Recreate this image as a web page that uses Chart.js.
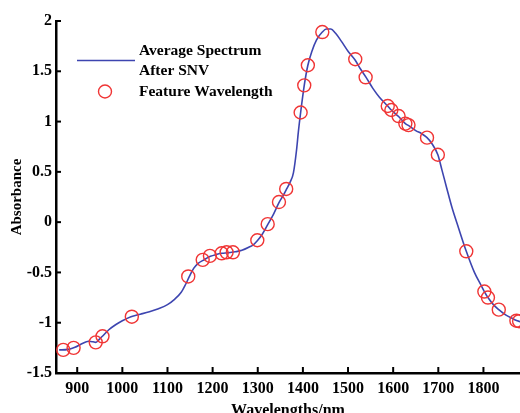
<!DOCTYPE html>
<html lang="en">
<head>
    <meta charset="UTF-8">
    <title>Average Spectrum After SNV</title>
    <script src="https://cdn.jsdelivr.net/npm/chart.js"></script>
    <style>
        body {
            margin: 0;
            padding: 0;
            background: #ffffff;
        }
        .wrap {
            width: 520px;
            height: 413px;
        }
    </style>
</head>
<body>
    <div class="wrap">
        <canvas id="spectrum" width="520" height="413"></canvas>
    </div>

    <script>
        // averaged spectrum after SNV
        const wavelengths = [860, 866, 880, 895, 910, 925, 935, 941, 950, 957, 970, 985, 1000, 1019, 1040, 1060, 1080, 1100,
            1115, 1130, 1140, 1148, 1158, 1168, 1179, 1195, 1210, 1220, 1235, 1250, 1265, 1280, 1290, 1299, 1310, 1322,
            1335, 1347, 1357, 1364, 1372, 1379, 1386, 1390, 1395, 1403, 1411, 1420, 1430, 1443, 1452, 1462, 1472, 1485,
            1500, 1516, 1528, 1540, 1555, 1570, 1588, 1596, 1612, 1627, 1636, 1650, 1663, 1675, 1686, 1699, 1708, 1718,
            1730, 1745, 1762, 1780, 1795, 1802, 1810, 1822, 1834, 1850, 1865, 1875, 1885];
        const absorbance = [-1.27, -1.27, -1.265, -1.245, -1.21, -1.185, -1.19, -1.195, -1.16, -1.13, -1.07, -1.02, -0.98,
            -0.94, -0.915, -0.89, -0.86, -0.82, -0.77, -0.70, -0.62, -0.545, -0.46, -0.41, -0.38, -0.34, -0.32, -0.31,
            -0.305, -0.295, -0.28, -0.25, -0.225, -0.185, -0.12, -0.025, 0.08, 0.195, 0.27, 0.33, 0.40, 0.49, 0.72, 0.90,
            1.09, 1.36, 1.56, 1.70, 1.81, 1.89, 1.92, 1.92, 1.88, 1.80, 1.70, 1.61, 1.52, 1.44, 1.33, 1.24, 1.155, 1.115,
            1.05, 0.98, 0.955, 0.91, 0.88, 0.84, 0.78, 0.67, 0.52, 0.35, 0.15, -0.06, -0.29, -0.50, -0.63, -0.69, -0.75,
            -0.82, -0.87, -0.925, -0.96, -0.98, -0.995];

        // selected feature wavelengths
        const featureWl = [869, 892, 941, 956, 1021, 1146, 1178, 1194, 1220, 1231, 1245, 1299, 1322, 1347, 1363, 1395,
            1403, 1411, 1443, 1516, 1539, 1588, 1596, 1612, 1627, 1634, 1675, 1699, 1762, 1802, 1810, 1834, 1873, 1879];
        const featureAbs = [-1.27, -1.25, -1.195, -1.135, -0.94, -0.54, -0.375, -0.335, -0.31, -0.30, -0.30, -0.18, -0.02,
            0.20, 0.33, 1.09, 1.36, 1.56, 1.89, 1.62, 1.44, 1.155, 1.115, 1.055, 0.98, 0.965, 0.84, 0.67, -0.29, -0.69,
            -0.75, -0.87, -0.98, -0.985];

        const legendLabels = [['Average Spectrum', 'After SNV'], ['Feature Wavelength']];
        const xTicks = [900, 1000, 1100, 1200, 1300, 1400, 1500, 1600, 1700, 1800];
        const yTicks = [-1.5, -1, -0.5, 0, 0.5, 1, 1.5, 2];

        const serif = '"Liberation Serif", "Times New Roman", serif';

        // ticks pointing into the plot, like the original figure
        const inwardTicks = {
            id: 'inwardTicks',
            afterDraw(chart) {
                const ctx = chart.ctx;
                const x = chart.scales.x, y = chart.scales.y;
                const area = chart.chartArea;
                ctx.save();
                ctx.strokeStyle = '#000';
                ctx.lineWidth = 2;
                x.ticks.forEach(t => {
                    const px = x.getPixelForValue(t.value);
                    ctx.beginPath();
                    ctx.moveTo(px, area.bottom);
                    ctx.lineTo(px, area.bottom - 6);
                    ctx.stroke();
                });
                y.ticks.forEach(t => {
                    const py = y.getPixelForValue(t.value);
                    ctx.beginPath();
                    ctx.moveTo(area.left, py);
                    ctx.lineTo(area.left + 5, py);
                    ctx.stroke();
                });
                ctx.restore();
            }
        };

        // legend inside the plot, no frame
        const innerLegend = {
            id: 'innerLegend',
            afterDatasetsDraw(chart) {
                const ctx = chart.ctx;
                const line = chart.data.datasets[0];
                const mark = chart.data.datasets[1];
                ctx.save();
                ctx.font = 'bold 15.5px ' + serif;
                ctx.fillStyle = '#000';
                ctx.textBaseline = 'middle';
                ctx.textAlign = 'left';

                ctx.strokeStyle = line.borderColor;
                ctx.lineWidth = line.borderWidth;
                ctx.beginPath();
                ctx.moveTo(77, 60.5);
                ctx.lineTo(135, 60.5);
                ctx.stroke();
                ctx.fillText(legendLabels[0][0], 139, 51);
                ctx.fillText(legendLabels[0][1], 139, 71);

                ctx.strokeStyle = mark.borderColor;
                ctx.lineWidth = mark.borderWidth;
                ctx.beginPath();
                ctx.arc(105, 91.5, mark.pointRadius, 0, Math.PI * 2);
                ctx.stroke();
                ctx.fillText(legendLabels[1][0], 139, 92);
                ctx.restore();
            }
        };

        const ctx = document.getElementById('spectrum').getContext('2d');
        new Chart(ctx, {
            type: 'scatter',
            data: {
                datasets: [
                    {
                        label: legendLabels[0].join(' '),
                        data: wavelengths.map((w, i) => ({ x: w, y: absorbance[i] })),
                        showLine: true,
                        borderColor: '#3d45b0',
                        borderWidth: 1.6,
                        pointRadius: 0,
                        cubicInterpolationMode: 'monotone',
                        order: 2
                    },
                    {
                        label: legendLabels[1][0],
                        data: featureWl.map((w, i) => ({ x: w, y: featureAbs[i] })),
                        showLine: false,
                        pointStyle: 'circle',
                        pointRadius: 6.5,
                        borderColor: '#f03535',
                        backgroundColor: 'rgba(0,0,0,0)',
                        borderWidth: 1.4,
                        order: 1
                    }
                ]
            },
            options: {
                responsive: false,
                animation: false,
                layout: { autoPadding: false, padding: { top: 21, right: 0, left: 0, bottom: 0 } },
                plugins: {
                    legend: { display: false },
                    tooltip: { enabled: false }
                },
                scales: {
                    x: {
                        type: 'linear',
                        min: 853,
                        max: 1881,
                        afterFit(scale) {
                            scale.height = 40;
                            scale.paddingLeft = 0;
                            scale.paddingRight = 0;
                        },
                        afterBuildTicks(scale) { scale.ticks = xTicks.map(v => ({ value: v })); },
                        ticks: {
                            padding: 6,
                            color: '#000',
                            maxRotation: 0,
                            callback: v => String(v),
                            font: { family: serif, size: 16, weight: 'bold' }
                        },
                        grid: { display: true, drawOnChartArea: false, drawTicks: false },
                        border: { display: true, color: '#000', width: 2.5 },
                        title: {
                            display: true,
                            text: 'Wavelengths/nm',
                            color: '#000',
                            padding: { top: 0, bottom: -7 },
                            font: { family: serif, size: 16, weight: 'bold' }
                        }
                    },
                    y: {
                        min: -1.5,
                        max: 2,
                        afterFit(scale) {
                            scale.width = 56;
                            scale.paddingTop = 0;
                            scale.paddingBottom = 0;
                        },
                        afterBuildTicks(scale) { scale.ticks = yTicks.map(v => ({ value: v })); },
                        ticks: {
                            padding: 4,
                            color: '#000',
                            callback: v => String(v),
                            font: { family: serif, size: 16, weight: 'bold' }
                        },
                        grid: { display: true, drawOnChartArea: false, drawTicks: false },
                        border: { display: true, color: '#000', width: 2.5 },
                        title: {
                            display: true,
                            text: 'Absorbance',
                            color: '#000',
                            padding: { top: 8, bottom: 0 },
                            font: { family: serif, size: 15, weight: 'bold' }
                        }
                    }
                }
            },
            plugins: [inwardTicks, innerLegend]
        });
    </script>
</body>
</html>
